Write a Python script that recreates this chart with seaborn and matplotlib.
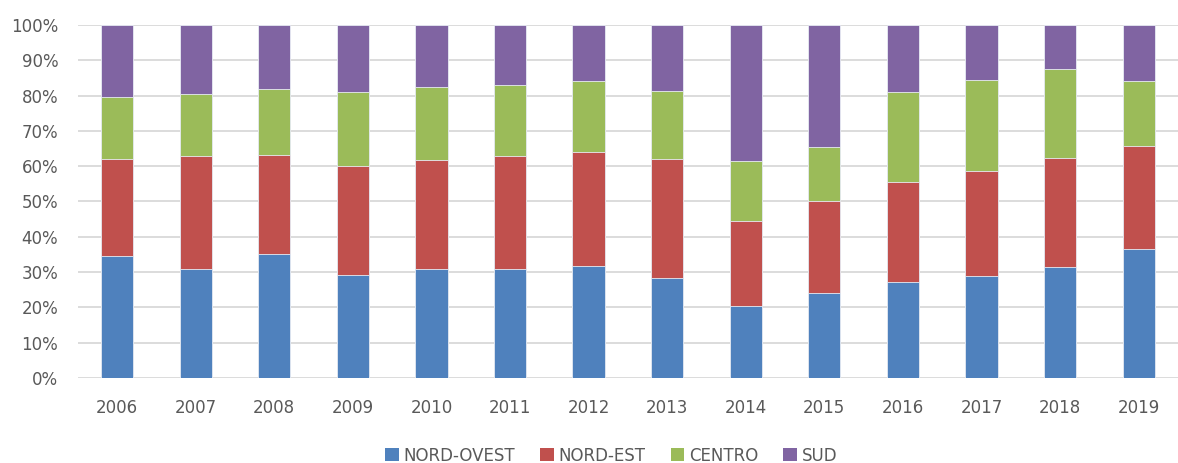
import pandas as pd
import matplotlib.pyplot as plt
import seaborn as sns
from matplotlib.patches import Patch
from matplotlib.ticker import PercentFormatter

years = ["2006", "2007", "2008", "2009", "2010", "2011", "2012",
         "2013", "2014", "2015", "2016", "2017", "2018", "2019"]
nord_ovest = [34.5, 30.8, 35.2, 29.1, 30.8, 30.8, 31.7, 28.2, 20.4, 24.1, 27.2, 28.8, 31.4, 36.6]
nord_est = [27.6, 32.0, 27.9, 31.0, 31.0, 32.0, 32.4, 33.9, 24.1, 25.9, 28.2, 29.8, 30.8, 29.2]
centro = [17.4, 17.7, 18.7, 20.9, 20.5, 20.3, 20.1, 19.3, 17.1, 15.5, 25.5, 25.7, 25.3, 18.2]
sud = [20.5, 19.5, 18.2, 19.0, 17.7, 16.9, 15.8, 18.6, 38.4, 34.5, 19.1, 15.7, 12.5, 16.0]

series = ["NORD-OVEST", "NORD-EST", "CENTRO", "SUD"]
colors = ["#4F81BD", "#C0504D", "#9BBB59", "#8064A2"]

df = pd.DataFrame({"anno": years, "NORD-OVEST": nord_ovest, "NORD-EST": nord_est,
                   "CENTRO": centro, "SUD": sud})
tot = df[series].sum(axis=1)
for s in series:
    df[s] = df[s] / tot * 100
cum = df[series].cumsum(axis=1)
cum["anno"] = df["anno"]

sns.set_theme(style="white")
plt.rcParams["font.family"] = ["DejaVu Sans"]

fig = plt.figure(figsize=(11.78, 4.63), dpi=100)
ax = fig.add_axes([0.066, 0.1836, 0.934, 0.7624])

# barre impilate: si disegna dal totale cumulato piu' alto verso il basso
for s, c in reversed(list(zip(series, colors))):
    sns.barplot(data=cum, x="anno", y=s, color=c, width=0.41, ax=ax,
                saturation=1, edgecolor="#E8ECF4", linewidth=0.6, zorder=3)

ax.set_ylim(0, 100)
ax.set_xlim(-0.5, len(years) - 0.5)
ax.set_yticks(range(0, 101, 10))
ax.yaxis.set_major_formatter(PercentFormatter(decimals=0))
ax.grid(axis="y", color="#D9D9D9", linewidth=1.3, zorder=0)
ax.set_axisbelow(True)
for sp in ax.spines.values():
    sp.set_visible(False)
ax.set_xlabel("")
ax.set_ylabel("")
ax.tick_params(axis="both", length=0, labelsize=12, labelcolor="#595959")
ax.tick_params(axis="y", pad=14)
ax.tick_params(axis="x", pad=15)

handles = [Patch(facecolor=c, edgecolor="none", label=s) for s, c in zip(series, colors)]
fig.legend(handles=handles, loc="center", bbox_to_anchor=(0.519, 0.016), ncol=4,
           frameon=False, fontsize=12, labelcolor="#595959", handlelength=0.8,
           handleheight=0.8, handletextpad=0.3, columnspacing=1.5)

fig.savefig("out.png", dpi=100)
